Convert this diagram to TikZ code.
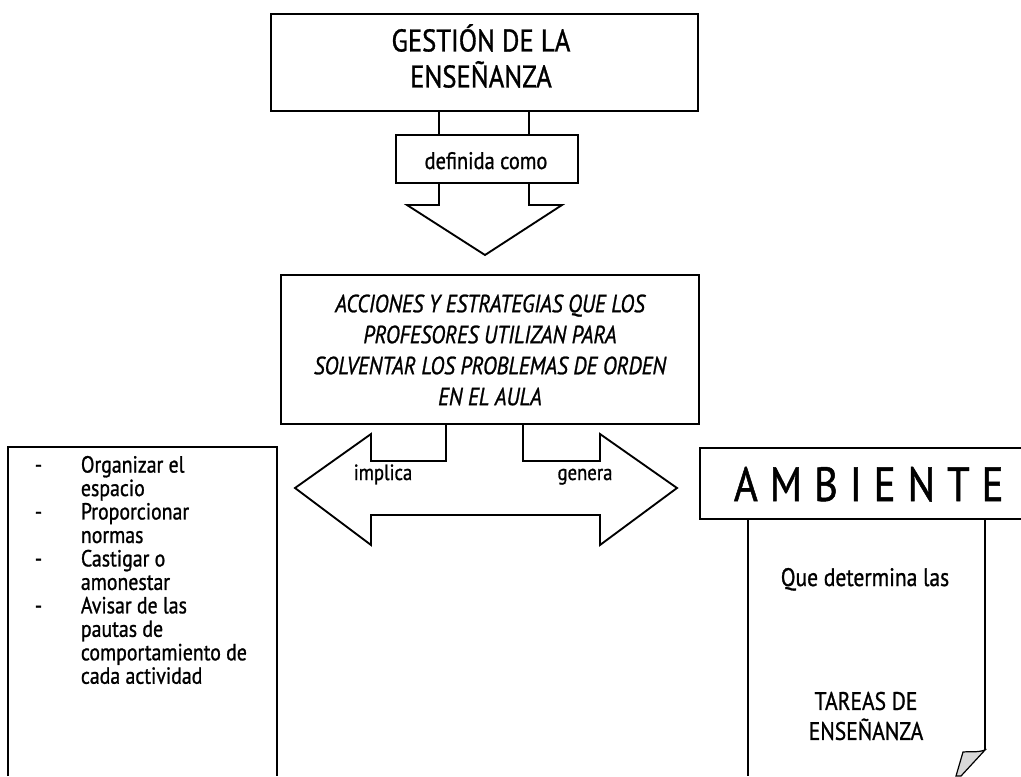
\documentclass[tikz,border=0pt]{standalone}
\usepackage{fontspec}
\setmainfont{PT Sans}[FakeStretch=0.85,FakeBold=1]
\newcommand{\itemdash}{\makebox[34.5pt][l]{-}}
\newcommand{\itemcont}{\hspace*{34.5pt}}
\begin{document}
\begin{tikzpicture}[x=0.75pt,y=-0.75pt,line width=1.4pt,line join=miter,
  box/.style={draw,fill=white},
  txt/.style={inner sep=0pt,anchor=base},
  blocktxt/.style={inner sep=0pt,align=center}]
\useasboundingbox (0,0) rectangle (1021,776);

% title box
\draw[box] (271,14) rectangle (698,111);
\node[blocktxt,font=\fontsize{23.5}{27}\selectfont] (gestion) at (481,56) {GESTIÓN DE LA\\ENSEÑANZA};

% downward block arrow with its label box
\draw (439,111) -- (439,205) -- (407,205) -- (485,255) -- (562,205) -- (529,205) -- (529,111);
\draw[box] (396,135) rectangle (578,183);
\node[txt,font=\fontsize{18}{20}\selectfont] (definida) at (486,169) {definida como};

% definition box
\draw[box] (281,275) rectangle (699,424);
\node[blocktxt,font=\fontsize{18.6}{23.25}\selectfont\itshape] (acciones) at (490,350)
  {ACCIONES Y ESTRATEGIAS QUE LOS\\PROFESORES UTILIZAN PARA\\SOLVENTAR LOS PROBLEMAS DE ORDEN\\EN EL AULA};

% double-headed block arrow
\draw (446,424) -- (446,461) -- (371,461) -- (371,434) -- (295,488) -- (371,545)
  -- (371,515) -- (600,515) -- (600,545) -- (677,488) -- (600,434) -- (600,461)
  -- (523,461) -- (523,424);
\node[txt,font=\fontsize{16.5}{18}\selectfont] (implica) at (383,480) {implica};
\node[txt,font=\fontsize{16.5}{18}\selectfont] (genera) at (585,480) {genera};

% list of actions
\draw (8,776) -- (8,447) -- (277,447) -- (277,776);
\node[inner sep=0pt,align=left,anchor=north west,font=\fontsize{17.5}{17.6}\selectfont] (acts) at (34,455)
{\itemdash Organizar el\\
 \itemcont espacio\\
 \itemdash Proporcionar\\
 \itemcont normas\\
 \itemdash Castigar o\\
 \itemcont amonestar\\
 \itemdash Avisar de las\\
 \itemcont pautas de\\
 \itemcont comportamiento de\\
 \itemcont cada actividad};

% AMBIENTE banner and page
\draw (1021,448) -- (700,448) -- (700,519) -- (1021,519);
\node[anchor=base west,inner sep=0pt,font=\fontsize{36}{40}\selectfont\addfontfeatures{LetterSpace=25}] (ambiente) at (733,501) {AMBIENTE};
\draw (748,519) -- (748,776);
\draw (985,519) -- (985,750);
\draw[fill=gray!30,line width=0.9pt] (985,750) .. controls (976,753) and (970,751) .. (963,752)
  -- (956,776) -- (961,776) -- cycle;
\node[txt,font=\fontsize{19}{22}\selectfont] (determina) at (865,586) {Que determina las};
\node[blocktxt,font=\fontsize{19}{22.5}\selectfont] (tareas) at (866,716) {TAREAS DE\\ENSEÑANZA};
\end{tikzpicture}
\end{document}
